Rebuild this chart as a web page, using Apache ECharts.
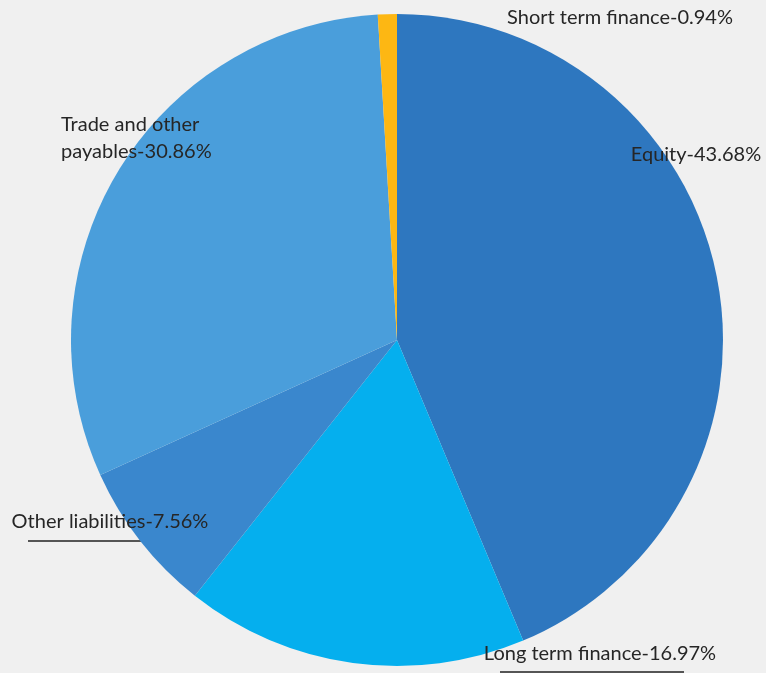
<!DOCTYPE html>
<html>
<head>
<meta charset="utf-8">
<script src="https://cdn.jsdelivr.net/npm/echarts@6/dist/echarts.min.js"></script>
<style>
  html, body { margin: 0; padding: 0; background: #f0f0f0; }
  #chart { width: 766px; height: 673px; }
</style>
</head>
<body>
<div id="chart"></div>
<script>
// Liabilities and equity breakdown (percent of total)
const categories = ['Equity', 'Long term finance', 'Other liabilities', 'Trade and other payables', 'Short term finance'];
const shares = [43.68, 16.97, 7.56, 30.86, 0.94];
const labelTexts = ['Equity-43.68%', 'Long term finance-16.97%', 'Other liabilities-7.56%', 'Trade and other\npayables-30.86%', 'Short term finance-0.94%'];

const sliceColors = ['#2e77bf', '#05afee', '#3a87cd', '#4a9edb', '#fdb713'];
// label anchor: [x, y, align]
const labelSpots = [
  [696, 155, 'center'],
  [600, 654, 'center'],
  [110, 522, 'center'],
  [61, 138, 'left'],
  [620, 18, 'center']
];

const chart = echarts.init(document.getElementById('chart'));
chart.setOption({
  backgroundColor: '#f0f0f0',
  animation: false,
  series: [{
    type: 'pie',
    center: [397, 340],
    radius: 326,
    startAngle: 90,
    clockwise: true,
    avoidLabelOverlap: false,
    data: categories.map((c, i) => ({
      name: c,
      value: shares[i],
      itemStyle: { color: sliceColors[i] },
      label: { formatter: labelTexts[i] }
    })),
    itemStyle: { borderWidth: 0 },
    label: {
      show: true,
      position: 'outside',
      color: '#262626',
      fontFamily: 'Lato',
      fontSize: 20,
      lineHeight: 27
    },
    labelLine: { show: false },
    labelLayout: function (p) {
      const s = labelSpots[p.dataIndex];
      return { x: s[0], y: s[1], align: s[2], verticalAlign: 'middle' };
    }
  }],
  graphic: [
    { type: 'line', shape: { x1: 28, y1: 541, x2: 195, y2: 541 }, style: { stroke: '#555', lineWidth: 2 } },
    { type: 'line', shape: { x1: 500, y1: 672, x2: 684, y2: 672 }, style: { stroke: '#555', lineWidth: 2 } }
  ]
});
</script>
</body>
</html>
